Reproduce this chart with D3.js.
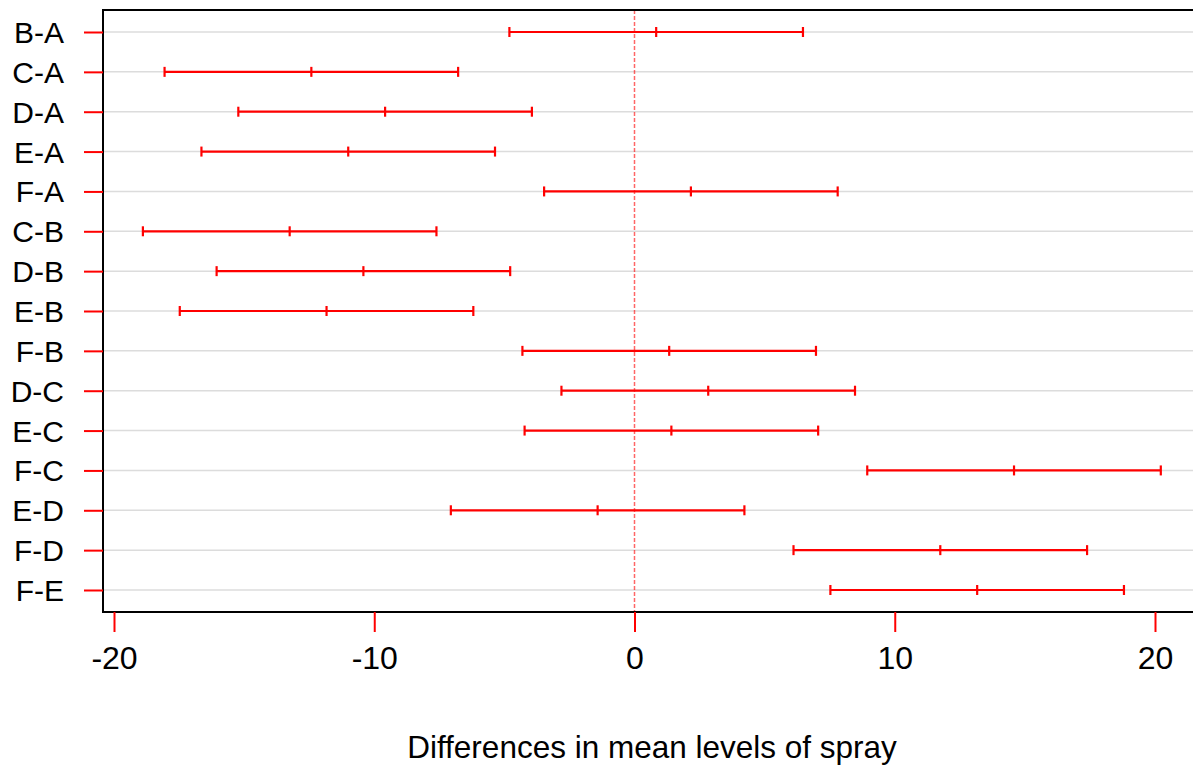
<!DOCTYPE html>
<html>
<head>
<meta charset="utf-8">
<script src="https://cdn.jsdelivr.net/npm/d3@7"></script>
<style>
  html, body { margin: 0; padding: 0; background: #fff; }
  svg { display: block; font-family: "Liberation Sans", Arial, sans-serif; }
</style>
</head>
<body>
<svg id="chart" width="1193" height="765"></svg>
<script>
// Tukey HSD comparisons of insect spray means (family-wise intervals)
const comparisons = ["B-A","C-A","D-A","E-A","F-A","C-B","D-B","E-B","F-B","D-C","E-C","F-C","E-D","F-D","F-E"];
const diffs = [0.833, -12.417, -9.583, -11.000, 2.167, -13.250, -10.417, -11.833, 1.333, 2.833, 1.417, 14.583, -1.417, 11.750, 13.167];
const lowers = [-4.807, -18.057, -15.223, -16.640, -3.473, -18.890, -16.057, -17.473, -4.307, -2.807, -4.223, 8.943, -7.057, 6.110, 7.527];
const uppers = [6.473, -6.777, -3.943, -5.360, 7.807, -7.610, -4.777, -6.193, 6.973, 8.473, 7.057, 20.223, 4.223, 17.390, 18.807];
const xTicks = [-20, -10, 0, 10, 20];
const xTitle = "Differences in mean levels of spray";

const rows = comparisons.map((c, i) => ({ name: c, diff: diffs[i], lwr: lowers[i], upr: uppers[i] }));

const svg = d3.select("#chart");
const box = { left: 103, top: 10, right: 1210, bottom: 612 };

const x = d3.scaleLinear().domain([-20, 20]).range([114, 1155]);
const y = d3.scalePoint().domain(comparisons).range([32, 590]);

const red = "#ff0000";

// horizontal guide lines at each comparison
svg.append("g").selectAll("line").data(comparisons).join("line")
  .attr("x1", box.left).attr("x2", box.right)
  .attr("y1", d => y(d)).attr("y2", d => y(d))
  .attr("stroke", "#dcdcdc").attr("stroke-width", 1.5);

// zero reference line
svg.append("line")
  .attr("x1", x(0)).attr("x2", x(0))
  .attr("y1", box.top).attr("y2", box.bottom)
  .attr("stroke", red).attr("stroke-opacity", 0.6)
  .attr("stroke-width", 1.5).attr("stroke-dasharray", "4,2");

// confidence intervals
const bars = svg.append("g").selectAll("g").data(rows).join("g")
  .attr("transform", d => `translate(0,${y(d.name)})`);
bars.append("line")
  .attr("x1", d => x(d.lwr)).attr("x2", d => x(d.upr))
  .attr("stroke", red).attr("stroke-width", 2.2);
["lwr", "diff", "upr"].forEach(k => {
  bars.append("line")
    .attr("x1", d => x(d[k])).attr("x2", d => x(d[k]))
    .attr("y1", -5).attr("y2", 5)
    .attr("stroke", red).attr("stroke-width", 2.2);
});

// plot frame
svg.append("rect")
  .attr("x", box.left).attr("y", box.top)
  .attr("width", box.right - box.left).attr("height", box.bottom - box.top)
  .attr("fill", "none").attr("stroke", "#000").attr("stroke-width", 2);

// y axis: red ticks outside the frame, labels on the left
const yAxis = d3.axisLeft(y).tickSize(19).tickPadding(20);
const gy = svg.append("g").attr("transform", `translate(${box.left},0)`).call(yAxis);
gy.select(".domain").remove();
gy.selectAll(".tick line").attr("stroke", red).attr("stroke-width", 2);
gy.selectAll(".tick text").attr("fill", "#000").attr("font-size", 30)
  .attr("font-family", "Liberation Sans, Arial, sans-serif").attr("dy", "0.35em");

// x axis
const xAxis = d3.axisBottom(x).tickValues(xTicks).tickSize(20).tickPadding(14)
  .tickFormat(d => String(d));
const gx = svg.append("g").attr("transform", `translate(0,${box.bottom})`).call(xAxis);
gx.select(".domain").remove();
gx.selectAll(".tick line").attr("stroke", red).attr("stroke-width", 2);
gx.selectAll(".tick text").attr("fill", "#000").attr("font-size", 32)
  .attr("font-family", "Liberation Sans, Arial, sans-serif");

svg.append("text")
  .attr("x", 652).attr("y", 758)
  .attr("text-anchor", "middle").attr("font-size", 31.5)
  .attr("fill", "#000")
  .text(xTitle);
</script>
</body>
</html>
